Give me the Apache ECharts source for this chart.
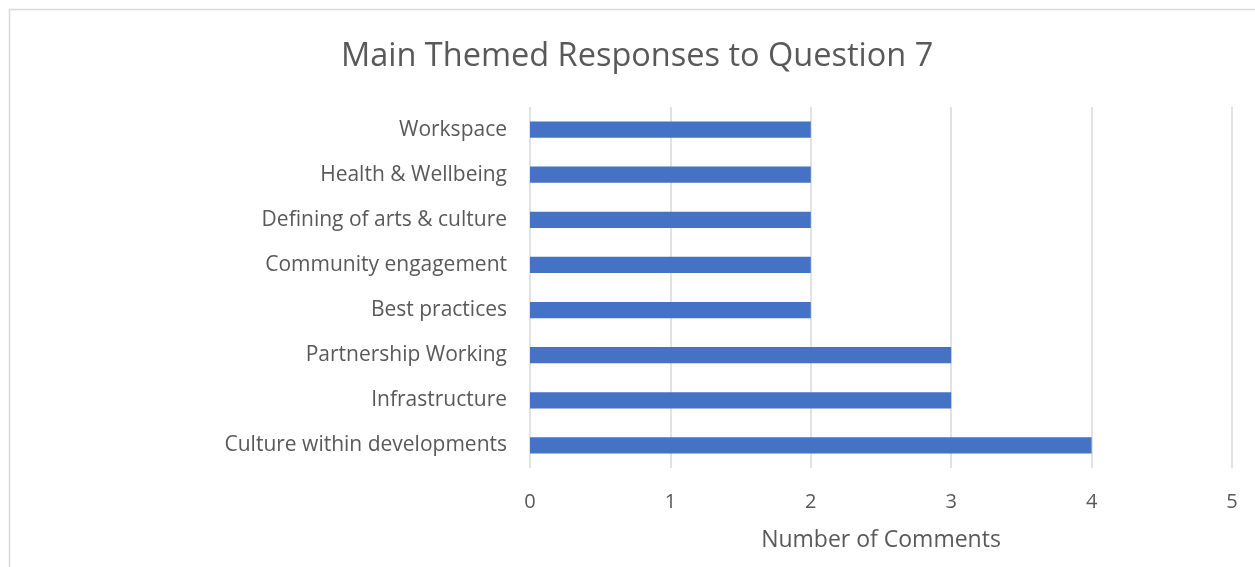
<!DOCTYPE html>
<html>
<head>
<meta charset="utf-8">
<script src="https://cdn.jsdelivr.net/npm/echarts@6/dist/echarts.min.js"></script>
<style>
  html, body { margin: 0; padding: 0; background: #fff; }
  #chart { width: 1255px; height: 567px; }
</style>
</head>
<body>
<div id="chart"></div>
<script>
// Themes, listed bottom to top as they appear on the category axis
const themes = [
  'Culture within developments',
  'Infrastructure',
  'Partnership Working',
  'Best practices',
  'Community engagement',
  'Defining of arts & culture',
  'Health & Wellbeing',
  'Workspace'
];
const commentCounts = [4, 3, 3, 2, 2, 2, 2, 2];
const xTicks = [0, 1, 2, 3, 4, 5];

const FONT = '"Open Sans", sans-serif';
const TEXT = '#595959';
const GRID = '#d9d9d9';

const chart = echarts.init(document.getElementById('chart'), null, { renderer: 'canvas' });
chart.setOption({
  animation: false,
  backgroundColor: '#ffffff',
  textStyle: { fontFamily: FONT },
  graphic: [{
    type: 'rect',
    shape: { x: 9.5, y: 9.5, width: 1400, height: 700 },
    style: { fill: 'none', stroke: GRID, lineWidth: 1.5 },
    silent: true
  }],
  title: {
    text: 'Main Themed Responses to Question 7',
    left: 336,
    top: 35,
    textStyle: { fontFamily: FONT, fontSize: 32.5, fontWeight: 'normal', color: TEXT }
  },
  grid: { left: 530, right: 23, top: 107, bottom: 99, containLabel: false },
  xAxis: {
    type: 'value',
    min: xTicks[0],
    max: xTicks[xTicks.length - 1],
    interval: 1,
    name: 'Number of Comments',
    nameLocation: 'middle',
    nameGap: 61,
    nameTextStyle: { fontFamily: FONT, fontSize: 23, color: TEXT },
    axisLine: { show: false },
    axisTick: { show: false },
    axisLabel: { margin: 24, fontFamily: FONT, fontSize: 20, color: TEXT },
    splitLine: { show: true, lineStyle: { color: GRID, width: 1.5 } }
  },
  yAxis: {
    type: 'category',
    data: themes,
    axisLine: { show: false },
    axisTick: { show: false },
    axisLabel: { margin: 23, fontFamily: FONT, fontSize: 21, color: TEXT, padding: [3, 0, 0, 0] }
  },
  series: [{
    type: 'bar',
    data: commentCounts,
    barCategoryGap: '64%',
    itemStyle: { color: '#4472c4' }
  }]
});
</script>
</body>
</html>
